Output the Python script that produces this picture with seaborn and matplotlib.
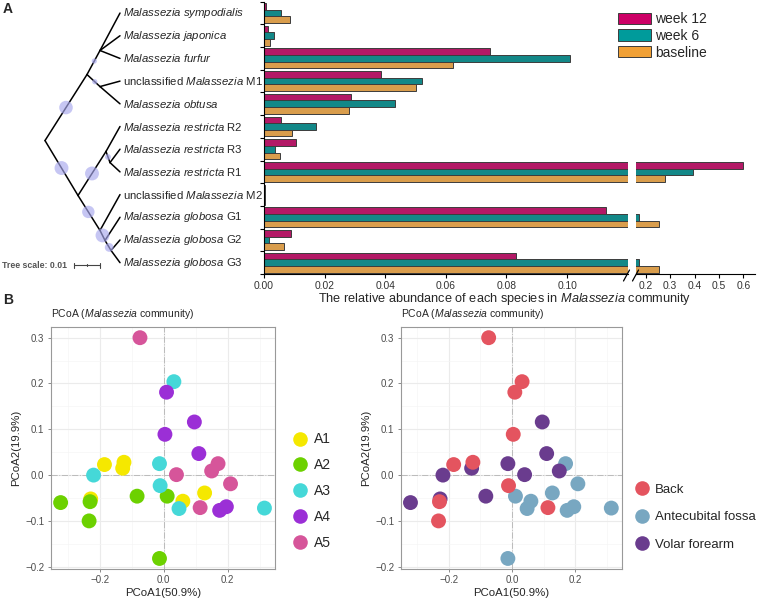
import matplotlib
matplotlib.use('Agg')
import matplotlib.pyplot as plt
import seaborn as sns
import pandas as pd
import numpy as np
from matplotlib.patches import Patch
from matplotlib.lines import Line2D

# ---- panel A data ----
species = ['sympodialis', 'japonica', 'furfur', 'M1', 'obtusa', 'R2', 'R3', 'R1',
           'M2', 'G1', 'G2', 'G3']
tip_labels = [
    r"$\mathit{Malassezia\ sympodialis}$",
    r"$\mathit{Malassezia\ japonica}$",
    r"$\mathit{Malassezia\ furfur}$",
    r"unclassified $\mathit{Malassezia}$ M1",
    r"$\mathit{Malassezia\ obtusa}$",
    r"$\mathit{Malassezia\ restricta}$ R2",
    r"$\mathit{Malassezia\ restricta}$ R3",
    r"$\mathit{Malassezia\ restricta}$ R1",
    r"unclassified $\mathit{Malassezia}$ M2",
    r"$\mathit{Malassezia\ globosa}$ G1",
    r"$\mathit{Malassezia\ globosa}$ G2",
    r"$\mathit{Malassezia\ globosa}$ G3",
]
times = ['week 12', 'week 6', 'baseline']
week12 = [0.0005, 0.0014, 0.0746, 0.0386, 0.0288, 0.0055, 0.0104, 0.600, 0.0002, 0.1127, 0.0090, 0.0832]
week6 = [0.0055, 0.0034, 0.1008, 0.0520, 0.0432, 0.0170, 0.0037, 0.392, 0.0002, 0.174, 0.0017, 0.174]
baseline = [0.0086, 0.0021, 0.0623, 0.0503, 0.0279, 0.0091, 0.0054, 0.277, 0.0002, 0.253, 0.0065, 0.256]
bar_colors = {'week 12': '#CC0066', 'week 6': '#009B9B', 'baseline': '#F0A035'}

# tree: internal nodes (depth, row), edges, support circles (edge, fraction, size)
tree_nodes = {'root': (45, 5.62), 'U': (87, 2.71), 'F': (100, 1.65), 'O': (100, 3.24),
              'L': (78, 8.04), 'Rj': (106, 6.10), 'R31': (110, 6.59),
              'G': (100, 9.58), 'G1x': (105, 10.02), 'G23': (111, 10.46)}
tip_depth = 120
tree_edges = [('root', 'U'), ('root', 'L'), ('U', 'F'), ('U', 'O'), ('F', 0), ('F', 1), ('F', 2),
              ('O', 3), ('O', 4), ('L', 'Rj'), ('Rj', 5), ('Rj', 'R31'), ('R31', 6), ('R31', 7),
              ('L', 'G'), ('G', 8), ('G', 'G1x'), ('G1x', 9), ('G1x', 'G23'), ('G23', 10), ('G23', 11)]
support = [('root', 'U', 0.5, 95), ('U', 'F', 0.56, 14), ('U', 'O', 0.6, 14),
           ('root', 'L', 0.5, 100), ('L', 'Rj', 0.5, 100), ('L', 'G', 0.47, 80),
           ('G', 'G1x', 0.5, 100), ('G1x', 'G23', 0.7, 40), ('Rj', 'R31', 0.5, 18)]

# ---- panel B data ----
area = ['A1'] * 6 + ['A2'] * 6 + ['A3'] * 6 + ['A4'] * 6 + ['A5'] * 6
pc1 = [-0.185, -0.128, -0.124, -0.228, 0.060, 0.128,
       -0.322, -0.230, -0.233, -0.083, 0.011, -0.013,
       -0.219, 0.032, -0.013, -0.011, 0.048, 0.315,
       0.009, 0.096, 0.004, 0.110, 0.175, 0.196,
       -0.074, 0.040, 0.170, 0.150, 0.209, 0.114]
pc2 = [0.023, 0.015, 0.028, -0.052, -0.057, -0.039,
       -0.060, -0.058, -0.100, -0.046, -0.046, -0.182,
       0.000, 0.204, 0.025, -0.023, -0.073, -0.072,
       0.181, 0.116, 0.089, 0.047, -0.077, -0.069,
       0.300, 0.001, 0.025, 0.009, -0.019, -0.071]
site = ['Back', 'Volar forearm', 'Back', 'Volar forearm', 'Antecubital fossa', 'Antecubital fossa',
        'Volar forearm', 'Back', 'Back', 'Volar forearm', 'Antecubital fossa', 'Antecubital fossa',
        'Volar forearm', 'Back', 'Volar forearm', 'Back', 'Antecubital fossa', 'Antecubital fossa',
        'Back', 'Volar forearm', 'Back', 'Volar forearm', 'Antecubital fossa', 'Antecubital fossa',
        'Back', 'Volar forearm', 'Antecubital fossa', 'Volar forearm', 'Antecubital fossa', 'Back']
area_colors = {'A1': '#F5E800', 'A2': '#6CD100', 'A3': '#45D8D8', 'A4': '#9B2FD6', 'A5': '#D6559A'}
site_colors = {'Back': '#E4545F', 'Antecubital fossa': '#78A7C1', 'Volar forearm': '#6A3C8E'}

sns.set_style('white')
plt.rcParams['font.family'] = ['Liberation Sans', 'DejaVu Sans']
plt.rcParams['mathtext.fontset'] = 'custom'
plt.rcParams['mathtext.rm'] = 'Liberation Sans'
plt.rcParams['mathtext.it'] = 'Liberation Sans:italic'

W, H = 758, 600
fig = plt.figure(figsize=(W / 100, H / 100), dpi=100)


def fx(px):
    return px / W


def fy(py):
    return 1 - py / H


# ===== A: tree =====
ax_tree = fig.add_axes([0, fy(274), fx(264), (274 - 1.7) / H])
ax_tree.set_xlim(0, 264)
ax_tree.set_ylim(11.5, -0.5)
ax_tree.axis('off')


def node_pos(n):
    if isinstance(n, int):
        return tip_depth, n
    return tree_nodes[n]


for a, b in tree_edges:
    (x0, y0), (x1, y1) = node_pos(a), node_pos(b)
    ax_tree.plot([x0, x1], [y0, y1], color='black', lw=1.1, solid_capstyle='round')
for a, b, f, s in support:
    (x0, y0), (x1, y1) = node_pos(a), node_pos(b)
    ax_tree.scatter(x0 + f * (x1 - x0), y0 + f * (y1 - y0), s=s, color='#a8a8ee',
                    alpha=0.65, edgecolor='none', zorder=3)
for i, lab in enumerate(tip_labels):
    ax_tree.text(tip_depth + 3, i, lab, fontsize=8.2, va='center', ha='left')

# tree scale
fig.text(fx(2), fy(265), 'Tree scale: 0.01', fontsize=6.3, fontweight='bold',
         color='#555555', va='center')
fig.add_artist(Line2D([fx(74), fx(100)], [fy(265), fy(265)], color='#444444', lw=0.8))
for px in (74, 87, 100):
    h = 2.5 if px != 87 else 1.5
    fig.add_artist(Line2D([fx(px), fx(px)], [fy(265 - h), fy(265 + h)], color='#444444', lw=0.8))

# ===== A: bars with broken axis =====
bars = pd.DataFrame({
    'species': species * 3,
    'time': np.repeat(times, len(species)),
    'value': week12 + week6 + baseline,
})
ax1 = fig.add_axes([fx(264), fy(274), fx(627.7 - 264), (274 - 1.7) / H])
ax2 = fig.add_axes([fx(636), fy(274), fx(755 - 636), (274 - 1.7) / H])
for ax in (ax1, ax2):
    sns.barplot(data=bars, x='value', y='species', hue='time', hue_order=times,
                palette=bar_colors, orient='h', width=0.88, edgecolor='#3c3c3c',
                linewidth=0.7, legend=False, ax=ax)
    ax.set_ylim(11.5, -0.5)
    ax.set_xlabel('')
    ax.set_ylabel('')
    ax.set_facecolor('none')
    for sp in ('top', 'right'):
        ax.spines[sp].set_visible(False)
    ax.spines['bottom'].set_color('black')
    ax.spines['bottom'].set_linewidth(0.8)
    ax.tick_params(axis='x', direction='out', length=3, width=0.8, color='black',
                   labelsize=7.4, labelcolor='#333333', pad=2, bottom=True)

ax1.set_xlim(0, 0.12)
ax1.set_xticks([0, 0.02, 0.04, 0.06, 0.08, 0.10])
ax1.set_xticklabels(['0.00', '0.02', '0.04', '0.06', '0.08', '0.10'])
ax1.set_yticks(np.arange(-0.5, 12, 1))
ax1.set_yticklabels([])
ax1.tick_params(axis='y', direction='out', length=3, width=0.8, color='black', left=True)
ax1.spines['left'].set_color('black')
ax1.spines['left'].set_linewidth(0.8)

ax2.set_xlim(0.16, 0.648)
ax2.set_xticks([0.2, 0.3, 0.4, 0.5, 0.6])
ax2.set_xticklabels(['0.2', '0.3', '0.4', '0.5', '0.6'])
ax2.set_yticks([])
ax2.spines['left'].set_visible(False)

for x0 in (623.5, 632.5):
    fig.add_artist(Line2D([fx(x0), fx(x0 + 6)], [fy(281), fy(270)], color='black', lw=0.9))

fig.text(fx(505), fy(299), r"The relative abundance of each species in $\mathit{Malassezia}$ community",
         fontsize=9.2, ha='center', va='center')

handles = [Patch(facecolor=bar_colors[t], edgecolor='#3c3c3c', linewidth=0.7) for t in times]
fig.legend(handles, times, loc='upper left', bbox_to_anchor=(fx(618), fy(12)), frameon=False,
           fontsize=10, handlelength=2.38, handleheight=0.86, handletextpad=0.3,
           labelspacing=0.2, borderpad=0, borderaxespad=0)

fig.text(fx(3), fy(9), 'A', fontsize=10, fontweight='bold', va='center')
fig.text(fx(3), fy(300), 'B', fontsize=10, fontweight='bold', va='center')

# ===== B: PCoA =====
pts = pd.DataFrame({'pc1': pc1, 'pc2': pc2, 'area': area, 'site': site})


def style_pcoa(ax):
    ax.set_xlim(-0.353, 0.348)
    ax.set_ylim(-0.205, 0.324)
    ax.set_xticks([-0.2, 0.0, 0.2])
    ax.set_xticklabels(['\u22120.2', '0.0', '0.2'])
    ax.set_xticks([-0.3, -0.1, 0.1, 0.3], minor=True)
    ax.set_yticks([-0.2, -0.1, 0.0, 0.1, 0.2, 0.3])
    ax.set_yticklabels(['\u22120.2', '\u22120.1', '0.0', '0.1', '0.2', '0.3'])
    ax.set_yticks(np.arange(-0.15, 0.3, 0.1), minor=True)
    ax.grid(True, which='major', color='#EBEBEB', lw=0.8)
    ax.grid(True, which='minor', color='#F5F5F5', lw=0.5)
    ax.set_axisbelow(True)
    for sp in ax.spines.values():
        sp.set_color('#999999')
        sp.set_linewidth(0.8)
    ax.tick_params(which='major', direction='out', length=2.5, width=0.6, color='#777777',
                   labelsize=7, labelcolor='#4D4D4D', pad=2, bottom=True, left=True)
    ax.tick_params(which='minor', length=0)
    ax.axhline(0, color='#BBBBBB', lw=0.7, ls='-.', zorder=1)
    ax.axvline(0, color='#BBBBBB', lw=0.7, ls='-.', zorder=1)
    ax.set_xlabel('PCoA1(50.9%)', fontsize=8.2, labelpad=2)
    ax.set_ylabel('PCoA2(19.9%)', fontsize=8.2, labelpad=3)
    ax.set_title(r"PCoA ($\mathit{Malassezia}$ community)", loc='left', fontsize=7.5, pad=7)


axL = fig.add_axes([fx(50.7), fy(569), fx(275 - 50.7), (569 - 326.7) / H])
sns.scatterplot(data=pts, x='pc1', y='pc2', hue='area', palette=area_colors, s=115,
                edgecolor='none', legend=False, ax=axL, zorder=3)
style_pcoa(axL)
hL = [Line2D([], [], marker='o', ls='', markersize=10.5, markerfacecolor=area_colors[a],
             markeredgecolor='none') for a in area_colors]
fig.legend(hL, list(area_colors), loc='center left', bbox_to_anchor=(fx(293), fy(491)),
           frameon=False, fontsize=10, handlelength=1, handletextpad=0.5,
           labelspacing=0.85, borderpad=0, borderaxespad=0)

axR = fig.add_axes([fx(400.7), fy(569), fx(621.7 - 400.7), (569 - 326.7) / H])
sns.scatterplot(data=pts, x='pc1', y='pc2', hue='site', palette=site_colors, s=115,
                edgecolor='none', legend=False, ax=axR, zorder=3)
style_pcoa(axR)
hR = [Line2D([], [], marker='o', ls='', markersize=10.5, markerfacecolor=site_colors[s],
             markeredgecolor='none') for s in site_colors]
fig.legend(hR, list(site_colors), loc='center left', bbox_to_anchor=(fx(635), fy(517)),
           frameon=False, fontsize=9.5, handlelength=1, handletextpad=0.5,
           labelspacing=1.15, borderpad=0, borderaxespad=0)

fig.savefig('out.png', dpi=100)
